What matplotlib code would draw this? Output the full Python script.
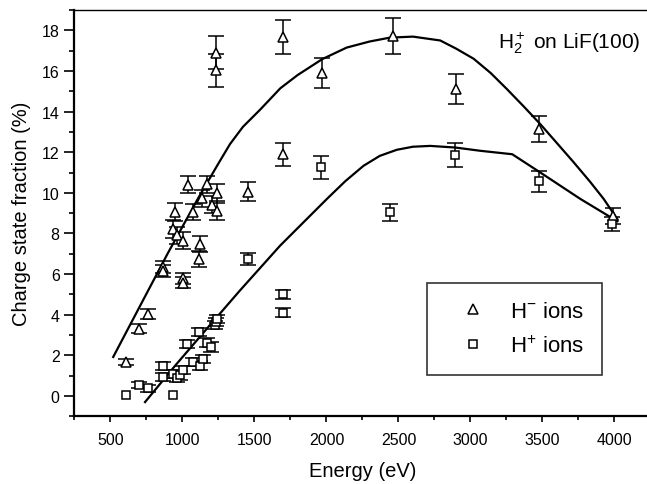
import numpy as np
import matplotlib
matplotlib.use("Agg")
import matplotlib.pyplot as plt
from matplotlib.lines import Line2D
from matplotlib.ticker import MultipleLocator

plt.rcParams['font.family'] = ['Liberation Sans', 'DejaVu Sans']
plt.rcParams['mathtext.fontset'] = 'custom'
plt.rcParams['mathtext.rm'] = 'Liberation Sans'
plt.rcParams['mathtext.it'] = 'Liberation Sans:italic'
plt.rcParams['mathtext.bf'] = 'Liberation Sans:bold'

# H- ions (triangles)
hm_energy = [606, 700, 763, 863, 867, 937, 948, 960, 1002, 1002, 1006, 1041, 1076, 1117, 1122,
             1134, 1173, 1205, 1233, 1233, 1243, 1243, 1458, 1697, 1697, 1968, 2459, 2902, 3479, 3987]
hm_frac = [1.67, 3.31, 4.04, 6.34, 6.17, 8.22, 9.07, 7.90, 5.80, 5.57, 7.65, 10.40, 9.04, 6.75, 7.47,
           9.73, 10.43, 9.42, 16.90, 16.03, 9.97, 9.13, 10.05, 11.90, 17.67, 15.89, 17.72, 15.10, 13.13, 8.85]
hm_err = [0.16, 0.23, 0.23, 0.3, 0.3, 0.45, 0.45, 0.4, 0.27, 0.27, 0.4, 0.42, 0.4, 0.4, 0.4,
          0.42, 0.42, 0.4, 0.8, 0.8, 0.45, 0.45, 0.47, 0.57, 0.85, 0.75, 0.87, 0.75, 0.65, 0.4]

# H+ ions (squares)
hp_energy = [606, 700, 763, 863, 863, 937, 937, 960, 983, 1006, 1030, 1076, 1115, 1122, 1141,
             1169, 1199, 1226, 1233, 1238, 1458, 1700, 1700, 1963, 2443, 2895, 3474, 3982]
hp_frac = [0.03, 0.52, 0.37, 1.48, 0.92, 0.03, 1.10, 0.88, 1.01, 1.26, 2.57, 1.67, 3.14, 1.50, 1.80,
           2.63, 2.41, 3.50, 3.64, 3.78, 6.75, 5.00, 4.10, 11.25, 9.04, 11.86, 10.56, 8.47]
hp_err = [0, 0.15, 0.15, 0.2, 0.2, 0, 0.2, 0.2, 0.2, 0.2, 0.2, 0.2, 0.2, 0.2, 0.2,
          0.2, 0.25, 0.2, 0.2, 0.2, 0.3, 0.22, 0.22, 0.57, 0.43, 0.6, 0.5, 0.35]

# guide curves drawn through the data
hm_curve_e = [519, 700, 900, 1110, 1250, 1330, 1420, 1540, 1680, 1800, 1970, 2140, 2300, 2440,
              2600, 2790, 2900, 3022, 3140, 3254, 3370, 3485, 3600, 3717, 3830, 3925, 4020]
hm_curve_y = [1.92, 4.36, 7.05, 9.75, 11.45, 12.4, 13.25, 14.1, 15.15, 15.8, 16.58, 17.15, 17.45, 17.64,
              17.69, 17.5, 17.1, 16.6, 15.9, 15.1, 14.25, 13.38, 12.45, 11.5, 10.55, 9.7, 8.7]
hp_curve_e = [740, 950, 1169, 1400, 1678, 2003, 2130, 2257, 2370, 2489, 2600, 2721, 2895, 3068,
              3290, 3485, 3763, 4020]
hp_curve_y = [-0.3, 1.5, 3.31, 5.2, 7.4, 9.7, 10.57, 11.33, 11.82, 12.12, 12.27, 12.31, 12.23, 12.07,
              11.9, 11.0, 9.7, 8.6]

fig = plt.figure(figsize=(6.47, 4.85), dpi=100)
ax = fig.add_axes([0.1151, 0.1396, 0.8903, 0.8377])

ax.plot(hm_curve_e, hm_curve_y, color='black', lw=1.6, zorder=2)
ax.plot(hp_curve_e, hp_curve_y, color='black', lw=1.6, zorder=2)

ebkw = dict(fmt='none', ecolor='black', elinewidth=1.1, capsize=5.5, capthick=1.1, zorder=3)
hm_e = np.array(hm_energy); hm_y = np.array(hm_frac); hm_s = np.array(hm_err)
hp_e = np.array(hp_energy); hp_y = np.array(hp_frac); hp_s = np.array(hp_err)
ax.errorbar(hm_e, hm_y, yerr=hm_s, **ebkw)
m = hp_s > 0
ax.errorbar(hp_e[m], hp_y[m], yerr=hp_s[m], **ebkw)

ax.plot(hm_e, hm_y, ls='none', marker='^', ms=7, mfc='white', mec='black', mew=1.1, zorder=4)
ax.plot(hp_e, hp_y, ls='none', marker='s', ms=6.3, mfc='white', mec='black', mew=1.1, zorder=4)

ax.set_xlim(250, 4250)
ax.set_ylim(-1, 19)
ax.xaxis.set_major_locator(MultipleLocator(500))
ax.xaxis.set_minor_locator(MultipleLocator(250))
ax.yaxis.set_major_locator(MultipleLocator(2))
ax.yaxis.set_minor_locator(MultipleLocator(1))
ax.set_xticks(np.arange(500, 4001, 500))
ax.tick_params(axis='y', which='major', direction='out', length=7, width=1.2, labelsize=11.5, pad=3.6)
ax.tick_params(axis='y', which='minor', direction='out', length=3.6, width=1.2)
ax.tick_params(axis='x', which='major', direction='out', length=4.5, width=1.2, labelsize=11.5, pad=7)
ax.tick_params(axis='x', which='minor', direction='out', length=3, width=1.2)
ax.tick_params(top=False, right=False, which='both')
for s in ['left', 'bottom']:
    ax.spines[s].set_linewidth(1.6)
ax.spines['top'].set_linewidth(1.0)
ax.spines['right'].set_visible(False)

ax.set_xlabel('Energy (eV)', fontsize=14.5, labelpad=10)
ax.set_ylabel('Charge state fraction (%)', fontsize=14.5, labelpad=8)

ax.text(0.735, 0.92, r'H$_2^+$ on LiF(100)', transform=ax.transAxes, fontsize=15, va='center', ha='left')

handles = [Line2D([], [], ls='none', marker='^', ms=7, mfc='white', mec='black', mew=1.1),
           Line2D([], [], ls='none', marker='s', ms=6.3, mfc='white', mec='black', mew=1.1)]
leg = ax.legend(handles, [r'H$^{-}$ ions', r'H$^{+}$ ions'], loc='lower left',
                bbox_to_anchor=(0.6115, 0.1024), fontsize=16, frameon=True, fancybox=False,
                borderpad=0.8, handletextpad=0.4, labelspacing=0.6, borderaxespad=0,
                handlelength=2.54)
leg.get_frame().set_edgecolor('black')
leg.get_frame().set_linewidth(1.2)

fig.savefig('out.png', dpi=100)
